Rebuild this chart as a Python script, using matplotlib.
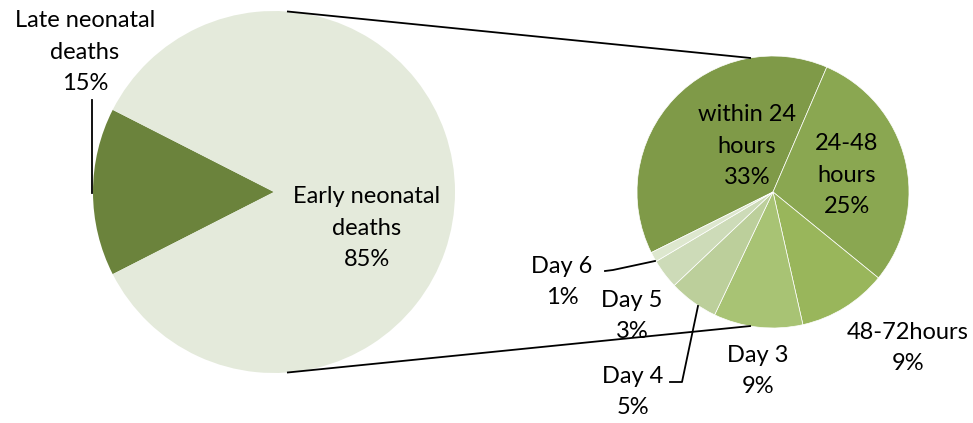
import matplotlib.pyplot as plt
import numpy as np

# -----------------------------
# Data
# -----------------------------

main_labels = ["Late neonatal\ndeaths", "Early neonatal\ndeaths"]
main_values = [15, 85]
main_colors = ["#6b833c", "#e4eadb"]

detail_labels = ["within 24\nhours", "24-48\nhours", "48-72hours",
                 "Day 3", "Day 4", "Day 5", "Day 6"]
detail_values = [33, 25, 9, 9, 5, 3, 1]
detail_colors = ["#7f9a48", "#8aa751", "#99b65b", "#a8c374",
                 "#bccf9b", "#cddbb8", "#dde7ce"]

plt.rcParams["font.family"] = ["Lato", "DejaVu Sans"]
FS = 17

# -----------------------------
# Figure (axes in pixel units, y up)
# -----------------------------

W, H = 973, 423
fig = plt.figure(figsize=(W / 100, H / 100), dpi=100)
ax = fig.add_axes([0, 0, 1, 1])

main_c = (274, H - 192)
main_r = 181
det_c = (773, H - 192)
det_r = 136

main_start = 180 - main_values[0] / sum(main_values) * 180
ax.pie(main_values, center=main_c, radius=main_r, colors=main_colors,
       startangle=main_start, counterclock=True,
       wedgeprops=dict(linewidth=0))

det_start = 66.7 + detail_values[0] / sum(detail_values) * 360
ax.pie(detail_values, center=det_c, radius=det_r, colors=detail_colors,
       startangle=det_start, counterclock=False,
       wedgeprops=dict(edgecolor="white", linewidth=0.5))

ax.set_xlim(0, W)
ax.set_ylim(0, H)
ax.set_aspect("equal")
ax.axis("off")

# -----------------------------
# Connector lines between pies
# -----------------------------

for a_main, a_det in [(85.6, 99.7), (-85.6, -99.7)]:
    p0 = (main_c[0] + main_r * np.cos(np.radians(a_main)),
          main_c[1] + main_r * np.sin(np.radians(a_main)))
    p1 = (det_c[0] + det_r * np.cos(np.radians(a_det)),
          det_c[1] + det_r * np.sin(np.radians(a_det)))
    ax.plot([p0[0], p1[0]], [p0[1], p1[1]], color="black", lw=1.3)

# -----------------------------
# Labels
# -----------------------------

def label(text, value, x, y):
    ax.text(x, H - y, f"{text}\n{value}%", ha="center", va="center",
            fontsize=FS, linespacing=1.6, color="black")

label(main_labels[0], main_values[0], 85, 52)
label(main_labels[1], main_values[1], 367, 228)

label(detail_labels[0], detail_values[0], 747, 146)
label(detail_labels[1], detail_values[1], 847, 175)
label(detail_labels[2], detail_values[2], 908, 348)
label(detail_labels[3], detail_values[3], 758, 371)
label(detail_labels[4], detail_values[4], 633, 392)
label(detail_labels[5], detail_values[5], 632, 316)
label(detail_labels[6], detail_values[6], 562, 282)

# leader lines
ax.plot([92, 92], [H - 100, H - 193], color="black", lw=1.3)
ax.plot([670, 682, 698], [H - 382, H - 382, H - 306], color="black", lw=1.3)
ax.plot([605, 613, 655], [H - 271, H - 270, H - 261], color="black", lw=1.3)

fig.savefig("out.png", dpi=100)
